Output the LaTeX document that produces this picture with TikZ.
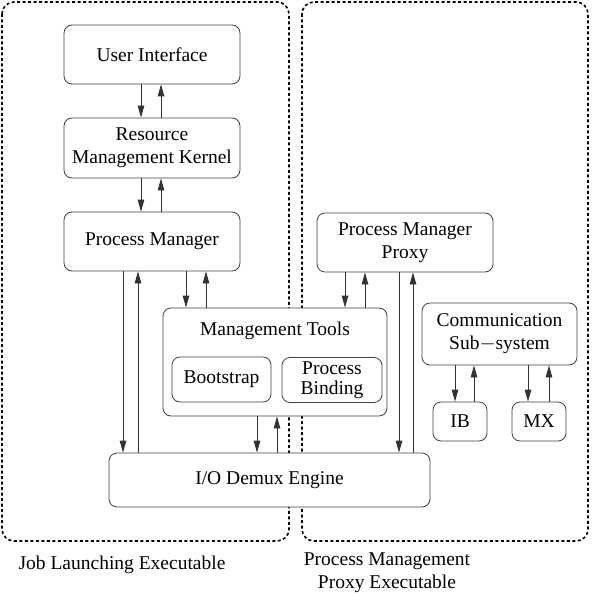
\documentclass[tikz,border=0pt]{standalone}
\usepackage{fontspec}
\setmainfont{Liberation Serif}
\usetikzlibrary{calc,arrows.meta}

\begin{document}
\begin{tikzpicture}[
  x=1pt, y=-1pt,
  font=\fontsize{19.5}{23}\selectfont,
  box/.style={draw=black!75, fill=white, line width=0.8pt, rounded corners=8pt, align=center, inner sep=2pt},
  frame/.style={draw, line width=1.6pt, dash pattern=on 3pt off 2.5pt, rounded corners=12pt},
  flow/.style={draw=black!80, line width=0.8pt, -{Triangle[length=12pt,width=6.5pt]}}
]
\useasboundingbox (0,0) rectangle (591,596);
\draw[frame] (2,2) rectangle (289,541);
\draw[frame] (302,2) rectangle (588,541);

\node[box, minimum width=176pt, minimum height=59pt] (ui) at (152,54.5) {User Interface};
\node[box, minimum width=176pt, minimum height=60pt] (rmk) at (152,148) {Resource\\Management Kernel};
\node[box, minimum width=176pt, minimum height=59pt] (pm) at (152,241.5) {Process Manager};
\node[box, minimum width=224pt, minimum height=108pt] (mt) at (275,362) {};
\node (mtlabel) at (275,331) {Management Tools};
\node[box, minimum width=99pt, minimum height=45pt] (boot) at (221.5,379.5) {Bootstrap};
\node[box, minimum width=100pt, minimum height=45pt] (bind) at (332,380) {Process\\[-3pt]Binding};
\node[box, minimum width=321pt, minimum height=54pt] (io) at (269.5,480) {I/O Demux Engine};
\node[box, minimum width=176pt, minimum height=59pt] (pmp) at (405,242.5) {Process Manager\\Proxy};
\node[box, minimum width=155pt, minimum height=62pt] (comm) at (499.5,334) {Communication\\Sub$-$system};
\node[box, minimum width=54pt, minimum height=39pt] (ib) at (460,421.5) {IB};
\node[box, minimum width=54pt, minimum height=39pt] (mx) at (539,421.5) {MX};

\node (jle) at (122,565) {Job Launching Executable};
\node[align=center] (ppe) at (387,573) {Process Management\\Proxy Executable};

\draw[flow] ([xshift=-11pt]ui.south) -- ([xshift=-11pt]rmk.north);
\draw[flow] ([xshift=9pt]rmk.north) -- ([xshift=9pt]ui.south);
\draw[flow] ([xshift=-11pt]rmk.south) -- ([xshift=-11pt]pm.north);
\draw[flow] ([xshift=9pt]pm.north) -- ([xshift=9pt]rmk.south);

\draw[flow] ([xshift=-29pt]pm.south) -- ([xshift=-29pt]pm.south |- io.north);
\draw[flow] ([xshift=-14pt]pm.south |- io.north) -- ([xshift=-14pt]pm.south);
\draw[flow] ([xshift=34pt]pm.south) -- ([xshift=34pt]pm.south |- mt.north);
\draw[flow] ([xshift=54pt]pm.south |- mt.north) -- ([xshift=54pt]pm.south);

\draw[flow] ([xshift=-18pt]mt.south) -- ([xshift=-18pt]mt.south |- io.north);
\draw[flow] ([xshift=2pt]mt.south |- io.north) -- ([xshift=2pt]mt.south);

\draw[flow] ([xshift=-60pt]pmp.south) -- ([xshift=-60pt]pmp.south |- mt.north);
\draw[flow] ([xshift=-40pt]pmp.south |- mt.north) -- ([xshift=-40pt]pmp.south);
\draw[flow] ([xshift=-6pt]pmp.south) -- ([xshift=-6pt]pmp.south |- io.north);
\draw[flow] ([xshift=8pt]pmp.south |- io.north) -- ([xshift=8pt]pmp.south);

\draw[flow] ([xshift=-5pt]ib.north |- comm.south) -- ([xshift=-5pt]ib.north);
\draw[flow] ([xshift=14pt]ib.north) -- ([xshift=14pt]ib.north |- comm.south);
\draw[flow] ([xshift=-11pt]mx.north |- comm.south) -- ([xshift=-11pt]mx.north);
\draw[flow] ([xshift=10pt]mx.north) -- ([xshift=10pt]mx.north |- comm.south);
\end{tikzpicture}
\end{document}
